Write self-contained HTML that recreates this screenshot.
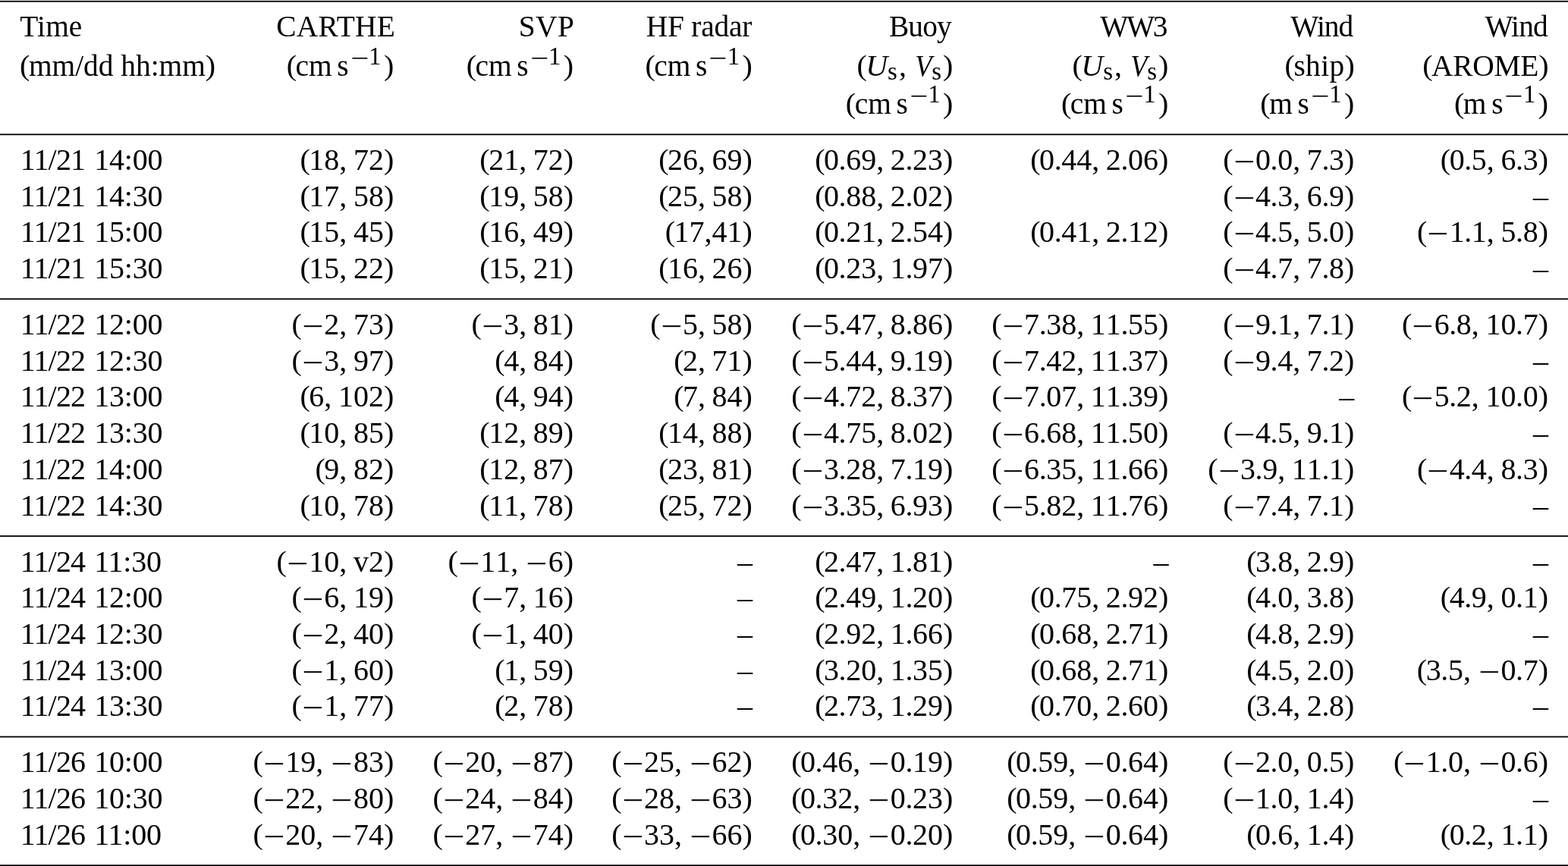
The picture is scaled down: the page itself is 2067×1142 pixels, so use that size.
<!DOCTYPE html>
<html lang="en"><head><meta charset="utf-8"><title>Table</title>
<style>
html,body{margin:0;padding:0;background:#fff;}
body{width:2067px;height:1142px;position:relative;overflow:hidden;font-family:"Liberation Serif",serif;font-size:40.0px;line-height:47px;color:#000;}
.r{position:absolute;left:0;width:2067px;height:47px;transform:scaleY(1.025);transform-origin:0 37.0px;}
.c{position:absolute;top:0;white-space:nowrap;}
.hl{position:absolute;left:0;width:2067px;height:1px;background:#000;}
.p{display:inline-block;letter-spacing:0;transform:translateY(-0.75px) scaleY(0.92);transform-origin:50% 37.00px;}
.t{font-size:0.985em;}
.mn{display:inline-block;width:0.735em;text-align:center;transform:translate(-0.3px,0.068em) scaleX(1.253);}
.l+.mn{margin-left:1.5px;}
.ts+.mn{margin-left:1.6px;}
sup,sub{font-size:0.825em;line-height:0;vertical-align:baseline;position:relative;}
sup{top:-0.445em;margin-right:0.10em;}
sub{top:0.145em;margin-right:0.06em;}
sup .mn{width:0.80em;transform:translate(0.8px,0.11em) scaleX(1.30);}
.ts{display:inline-block;width:0.215em;}
.us{display:inline-block;width:0.1667em;}
.l{margin-right:-1.5px;}
.m{font-kerning:none;}
.pt{margin:0 -0.4px;}
.da{letter-spacing:-0.85px;margin-right:2.4px;}
.v{display:inline-block;margin-left:-1.2px;transform:scaleX(0.91);transform-origin:100% 50%;}
.d{letter-spacing:-0.25px;}
</style></head><body>
<div class="hl" style="top:0px;background:rgb(230,230,230)"></div>
<div class="hl" style="top:1px;background:rgb(0,0,0)"></div>
<div class="hl" style="top:2px;background:rgb(76,76,76)"></div>
<div class="hl" style="top:176px;background:rgb(115,115,115)"></div>
<div class="hl" style="top:177px;background:rgb(0,0,0)"></div>
<div class="hl" style="top:178px;background:rgb(191,191,191)"></div>
<div class="hl" style="top:393px;background:rgb(102,102,102)"></div>
<div class="hl" style="top:394px;background:rgb(0,0,0)"></div>
<div class="hl" style="top:395px;background:rgb(204,204,204)"></div>
<div class="hl" style="top:706px;background:rgb(13,13,13)"></div>
<div class="hl" style="top:707px;background:rgb(38,38,38)"></div>
<div class="hl" style="top:970px;background:rgb(179,179,179)"></div>
<div class="hl" style="top:971px;background:rgb(0,0,0)"></div>
<div class="hl" style="top:972px;background:rgb(128,128,128)"></div>
<div class="hl" style="top:1140px;background:rgb(76,76,76)"></div>
<div class="hl" style="top:1141px;background:rgb(0,0,0)"></div>
<div class="r" style="top:11.00px"><div class="c" style="left:26.36px;letter-spacing:0.08px;"><span class="t">Time</span></div><div class="c" style="right:1545.99px;letter-spacing:0.26px;"><span class="t">CARTHE</span></div><div class="c" style="right:1309.62px;letter-spacing:0.50px;"><span class="t">SVP</span></div><div class="c" style="right:1075.99px;letter-spacing:-0.24px;"><span class="t">HF radar</span></div><div class="c" style="right:813.12px;letter-spacing:-0.84px;"><span class="t">Buoy</span></div><div class="c" style="right:529.88px;letter-spacing:-2.36px;"><span class="t">WW3</span></div><div class="c" style="right:283.69px;letter-spacing:-0.97px;"><span class="t">Wind</span></div><div class="c" style="right:27.26px;letter-spacing:-0.90px;"><span class="t">Wind</span></div></div>
<div class="r" style="top:63.00px"><div class="c" style="left:26.11px;letter-spacing:-0.02px;"><span class="p l">(</span><span class="t">mm/dd hh:mm</span><span class="p">)</span></div><div class="c" style="right:1547.80px;"><span class="p l">(</span><span class="t">cm</span><span class="us"></span><span class="t">s</span><sup><span class="mn">−</span>1</sup><span class="p">)</span></div><div class="c" style="right:1310.90px;"><span class="p l">(</span><span class="t">cm</span><span class="us"></span><span class="t">s</span><sup><span class="mn">−</span>1</sup><span class="p">)</span></div><div class="c" style="right:1075.10px;"><span class="p l">(</span><span class="t">cm</span><span class="us"></span><span class="t">s</span><sup><span class="mn">−</span>1</sup><span class="p">)</span></div><div class="c" style="right:810.70px;"><span class="p l">(</span><i>U</i><sub>s</sub>, <i class="v">V</i><sub>s</sub><span class="p">)</span></div><div class="c" style="right:526.60px;"><span class="p l">(</span><i>U</i><sub>s</sub>, <i class="v">V</i><sub>s</sub><span class="p">)</span></div><div class="c" style="right:281.23px;letter-spacing:0.34px;"><span class="p l">(</span><span class="t">ship</span><span class="p">)</span></div><div class="c" style="right:25.55px;letter-spacing:-0.25px;"><span class="p l">(</span><span class="t">AROME</span><span class="p">)</span></div></div>
<div class="r" style="top:113.00px"><div class="c" style="right:810.70px;"><span class="p l">(</span><span class="t">cm</span><span class="us"></span><span class="t">s</span><sup><span class="mn">−</span>1</sup><span class="p">)</span></div><div class="c" style="right:526.60px;"><span class="p l">(</span><span class="t">cm</span><span class="us"></span><span class="t">s</span><sup><span class="mn">−</span>1</sup><span class="p">)</span></div><div class="c" style="right:281.70px;"><span class="p l">(</span><span class="t">m</span><span class="us"></span><span class="t">s</span><sup><span class="mn">−</span>1</sup><span class="p">)</span></div><div class="c" style="right:26.00px;"><span class="p l">(</span><span class="t">m</span><span class="us"></span><span class="t">s</span><sup><span class="mn">−</span>1</sup><span class="p">)</span></div></div>
<div class="r" style="top:187.00px"><div class="c d" style="left:26.80px;"><span class="da">11/21</span> 14:00</div><div class="c m" style="right:1547.80px;"><span class="p l">(</span>18,<span class="ts"></span>72<span class="p">)</span></div><div class="c m" style="right:1310.90px;"><span class="p l">(</span>21,<span class="ts"></span>72<span class="p">)</span></div><div class="c m" style="right:1075.10px;"><span class="p l">(</span>26,<span class="ts"></span>69<span class="p">)</span></div><div class="c m" style="right:810.70px;"><span class="p l">(</span>0<span class="pt">.</span>69,<span class="ts"></span>2<span class="pt">.</span>23<span class="p">)</span></div><div class="c m" style="right:526.60px;"><span class="p l">(</span>0<span class="pt">.</span>44,<span class="ts"></span>2<span class="pt">.</span>06<span class="p">)</span></div><div class="c m" style="right:281.70px;"><span class="p l">(</span><span class="mn">−</span>0<span class="pt">.</span>0,<span class="ts"></span>7<span class="pt">.</span>3<span class="p">)</span></div><div class="c m" style="right:26.00px;"><span class="p l">(</span>0<span class="pt">.</span>5,<span class="ts"></span>6<span class="pt">.</span>3<span class="p">)</span></div></div>
<div class="r" style="top:235.00px"><div class="c d" style="left:26.80px;"><span class="da">11/21</span> 14:30</div><div class="c m" style="right:1547.80px;"><span class="p l">(</span>17,<span class="ts"></span>58<span class="p">)</span></div><div class="c m" style="right:1310.90px;"><span class="p l">(</span>19,<span class="ts"></span>58<span class="p">)</span></div><div class="c m" style="right:1075.10px;"><span class="p l">(</span>25,<span class="ts"></span>58<span class="p">)</span></div><div class="c m" style="right:810.70px;"><span class="p l">(</span>0<span class="pt">.</span>88,<span class="ts"></span>2<span class="pt">.</span>02<span class="p">)</span></div><div class="c m" style="right:281.70px;"><span class="p l">(</span><span class="mn">−</span>4<span class="pt">.</span>3,<span class="ts"></span>6<span class="pt">.</span>9<span class="p">)</span></div><div class="c m" style="right:26.00px;">–</div></div>
<div class="r" style="top:282.00px"><div class="c d" style="left:26.80px;"><span class="da">11/21</span> 15:00</div><div class="c m" style="right:1547.80px;"><span class="p l">(</span>15,<span class="ts"></span>45<span class="p">)</span></div><div class="c m" style="right:1310.90px;"><span class="p l">(</span>16,<span class="ts"></span>49<span class="p">)</span></div><div class="c m" style="right:1075.10px;"><span class="p l">(</span>17,41<span class="p">)</span></div><div class="c m" style="right:810.70px;"><span class="p l">(</span>0<span class="pt">.</span>21,<span class="ts"></span>2<span class="pt">.</span>54<span class="p">)</span></div><div class="c m" style="right:526.60px;"><span class="p l">(</span>0<span class="pt">.</span>41,<span class="ts"></span>2<span class="pt">.</span>12<span class="p">)</span></div><div class="c m" style="right:281.70px;"><span class="p l">(</span><span class="mn">−</span>4<span class="pt">.</span>5,<span class="ts"></span>5<span class="pt">.</span>0<span class="p">)</span></div><div class="c m" style="right:26.00px;"><span class="p l">(</span><span class="mn">−</span>1<span class="pt">.</span>1,<span class="ts"></span>5<span class="pt">.</span>8<span class="p">)</span></div></div>
<div class="r" style="top:330.00px"><div class="c d" style="left:26.80px;"><span class="da">11/21</span> 15:30</div><div class="c m" style="right:1547.80px;"><span class="p l">(</span>15,<span class="ts"></span>22<span class="p">)</span></div><div class="c m" style="right:1310.90px;"><span class="p l">(</span>15,<span class="ts"></span>21<span class="p">)</span></div><div class="c m" style="right:1075.10px;"><span class="p l">(</span>16,<span class="ts"></span>26<span class="p">)</span></div><div class="c m" style="right:810.70px;"><span class="p l">(</span>0<span class="pt">.</span>23,<span class="ts"></span>1<span class="pt">.</span>97<span class="p">)</span></div><div class="c m" style="right:281.70px;"><span class="p l">(</span><span class="mn">−</span>4<span class="pt">.</span>7,<span class="ts"></span>7<span class="pt">.</span>8<span class="p">)</span></div><div class="c m" style="right:26.00px;">–</div></div>
<div class="r" style="top:404.00px"><div class="c d" style="left:26.80px;"><span class="da">11/22</span> 12:00</div><div class="c m" style="right:1547.80px;"><span class="p l">(</span><span class="mn">−</span>2,<span class="ts"></span>73<span class="p">)</span></div><div class="c m" style="right:1310.90px;"><span class="p l">(</span><span class="mn">−</span>3,<span class="ts"></span>81<span class="p">)</span></div><div class="c m" style="right:1075.10px;"><span class="p l">(</span><span class="mn">−</span>5,<span class="ts"></span>58<span class="p">)</span></div><div class="c m" style="right:810.70px;"><span class="p l">(</span><span class="mn">−</span>5<span class="pt">.</span>47,<span class="ts"></span>8<span class="pt">.</span>86<span class="p">)</span></div><div class="c m" style="right:526.60px;"><span class="p l">(</span><span class="mn">−</span>7<span class="pt">.</span>38,<span class="ts"></span>11<span class="pt">.</span>55<span class="p">)</span></div><div class="c m" style="right:281.70px;"><span class="p l">(</span><span class="mn">−</span>9<span class="pt">.</span>1,<span class="ts"></span>7<span class="pt">.</span>1<span class="p">)</span></div><div class="c m" style="right:26.00px;"><span class="p l">(</span><span class="mn">−</span>6<span class="pt">.</span>8,<span class="ts"></span>10<span class="pt">.</span>7<span class="p">)</span></div></div>
<div class="r" style="top:452.00px"><div class="c d" style="left:26.80px;"><span class="da">11/22</span> 12:30</div><div class="c m" style="right:1547.80px;"><span class="p l">(</span><span class="mn">−</span>3,<span class="ts"></span>97<span class="p">)</span></div><div class="c m" style="right:1310.90px;"><span class="p l">(</span>4,<span class="ts"></span>84<span class="p">)</span></div><div class="c m" style="right:1075.10px;"><span class="p l">(</span>2,<span class="ts"></span>71<span class="p">)</span></div><div class="c m" style="right:810.70px;"><span class="p l">(</span><span class="mn">−</span>5<span class="pt">.</span>44,<span class="ts"></span>9<span class="pt">.</span>19<span class="p">)</span></div><div class="c m" style="right:526.60px;"><span class="p l">(</span><span class="mn">−</span>7<span class="pt">.</span>42,<span class="ts"></span>11<span class="pt">.</span>37<span class="p">)</span></div><div class="c m" style="right:281.70px;"><span class="p l">(</span><span class="mn">−</span>9<span class="pt">.</span>4,<span class="ts"></span>7<span class="pt">.</span>2<span class="p">)</span></div><div class="c m" style="right:26.00px;">–</div></div>
<div class="r" style="top:499.00px"><div class="c d" style="left:26.80px;"><span class="da">11/22</span> 13:00</div><div class="c m" style="right:1547.80px;"><span class="p l">(</span>6,<span class="ts"></span>102<span class="p">)</span></div><div class="c m" style="right:1310.90px;"><span class="p l">(</span>4,<span class="ts"></span>94<span class="p">)</span></div><div class="c m" style="right:1075.10px;"><span class="p l">(</span>7,<span class="ts"></span>84<span class="p">)</span></div><div class="c m" style="right:810.70px;"><span class="p l">(</span><span class="mn">−</span>4<span class="pt">.</span>72,<span class="ts"></span>8<span class="pt">.</span>37<span class="p">)</span></div><div class="c m" style="right:526.60px;"><span class="p l">(</span><span class="mn">−</span>7<span class="pt">.</span>07,<span class="ts"></span>11<span class="pt">.</span>39<span class="p">)</span></div><div class="c m" style="right:281.70px;">–</div><div class="c m" style="right:26.00px;"><span class="p l">(</span><span class="mn">−</span>5<span class="pt">.</span>2,<span class="ts"></span>10<span class="pt">.</span>0<span class="p">)</span></div></div>
<div class="r" style="top:547.00px"><div class="c d" style="left:26.80px;"><span class="da">11/22</span> 13:30</div><div class="c m" style="right:1547.80px;"><span class="p l">(</span>10,<span class="ts"></span>85<span class="p">)</span></div><div class="c m" style="right:1310.90px;"><span class="p l">(</span>12,<span class="ts"></span>89<span class="p">)</span></div><div class="c m" style="right:1075.10px;"><span class="p l">(</span>14,<span class="ts"></span>88<span class="p">)</span></div><div class="c m" style="right:810.70px;"><span class="p l">(</span><span class="mn">−</span>4<span class="pt">.</span>75,<span class="ts"></span>8<span class="pt">.</span>02<span class="p">)</span></div><div class="c m" style="right:526.60px;"><span class="p l">(</span><span class="mn">−</span>6<span class="pt">.</span>68,<span class="ts"></span>11<span class="pt">.</span>50<span class="p">)</span></div><div class="c m" style="right:281.70px;"><span class="p l">(</span><span class="mn">−</span>4<span class="pt">.</span>5,<span class="ts"></span>9<span class="pt">.</span>1<span class="p">)</span></div><div class="c m" style="right:26.00px;">–</div></div>
<div class="r" style="top:595.00px"><div class="c d" style="left:26.80px;"><span class="da">11/22</span> 14:00</div><div class="c m" style="right:1547.80px;"><span class="p l">(</span>9,<span class="ts"></span>82<span class="p">)</span></div><div class="c m" style="right:1310.90px;"><span class="p l">(</span>12,<span class="ts"></span>87<span class="p">)</span></div><div class="c m" style="right:1075.10px;"><span class="p l">(</span>23,<span class="ts"></span>81<span class="p">)</span></div><div class="c m" style="right:810.70px;"><span class="p l">(</span><span class="mn">−</span>3<span class="pt">.</span>28,<span class="ts"></span>7<span class="pt">.</span>19<span class="p">)</span></div><div class="c m" style="right:526.60px;"><span class="p l">(</span><span class="mn">−</span>6<span class="pt">.</span>35,<span class="ts"></span>11<span class="pt">.</span>66<span class="p">)</span></div><div class="c m" style="right:281.70px;"><span class="p l">(</span><span class="mn">−</span>3<span class="pt">.</span>9,<span class="ts"></span>11<span class="pt">.</span>1<span class="p">)</span></div><div class="c m" style="right:26.00px;"><span class="p l">(</span><span class="mn">−</span>4<span class="pt">.</span>4,<span class="ts"></span>8<span class="pt">.</span>3<span class="p">)</span></div></div>
<div class="r" style="top:643.00px"><div class="c d" style="left:26.80px;"><span class="da">11/22</span> 14:30</div><div class="c m" style="right:1547.80px;"><span class="p l">(</span>10,<span class="ts"></span>78<span class="p">)</span></div><div class="c m" style="right:1310.90px;"><span class="p l">(</span>11,<span class="ts"></span>78<span class="p">)</span></div><div class="c m" style="right:1075.10px;"><span class="p l">(</span>25,<span class="ts"></span>72<span class="p">)</span></div><div class="c m" style="right:810.70px;"><span class="p l">(</span><span class="mn">−</span>3<span class="pt">.</span>35,<span class="ts"></span>6<span class="pt">.</span>93<span class="p">)</span></div><div class="c m" style="right:526.60px;"><span class="p l">(</span><span class="mn">−</span>5<span class="pt">.</span>82,<span class="ts"></span>11<span class="pt">.</span>76<span class="p">)</span></div><div class="c m" style="right:281.70px;"><span class="p l">(</span><span class="mn">−</span>7<span class="pt">.</span>4,<span class="ts"></span>7<span class="pt">.</span>1<span class="p">)</span></div><div class="c m" style="right:26.00px;">–</div></div>
<div class="r" style="top:717.00px"><div class="c d" style="left:26.80px;"><span class="da">11/24</span> 11:30</div><div class="c m" style="right:1547.80px;"><span class="p l">(</span><span class="mn">−</span>10,<span class="ts"></span>v2<span class="p">)</span></div><div class="c m" style="right:1310.90px;"><span class="p l">(</span><span class="mn">−</span>11,<span class="ts"></span><span class="mn">−</span>6<span class="p">)</span></div><div class="c m" style="right:1075.10px;">–</div><div class="c m" style="right:810.70px;"><span class="p l">(</span>2<span class="pt">.</span>47,<span class="ts"></span>1<span class="pt">.</span>81<span class="p">)</span></div><div class="c m" style="right:526.60px;">–</div><div class="c m" style="right:281.70px;"><span class="p l">(</span>3<span class="pt">.</span>8,<span class="ts"></span>2<span class="pt">.</span>9<span class="p">)</span></div><div class="c m" style="right:26.00px;">–</div></div>
<div class="r" style="top:764.00px"><div class="c d" style="left:26.80px;"><span class="da">11/24</span> 12:00</div><div class="c m" style="right:1547.80px;"><span class="p l">(</span><span class="mn">−</span>6,<span class="ts"></span>19<span class="p">)</span></div><div class="c m" style="right:1310.90px;"><span class="p l">(</span><span class="mn">−</span>7,<span class="ts"></span>16<span class="p">)</span></div><div class="c m" style="right:1075.10px;">–</div><div class="c m" style="right:810.70px;"><span class="p l">(</span>2<span class="pt">.</span>49,<span class="ts"></span>1<span class="pt">.</span>20<span class="p">)</span></div><div class="c m" style="right:526.60px;"><span class="p l">(</span>0<span class="pt">.</span>75,<span class="ts"></span>2<span class="pt">.</span>92<span class="p">)</span></div><div class="c m" style="right:281.70px;"><span class="p l">(</span>4<span class="pt">.</span>0,<span class="ts"></span>3<span class="pt">.</span>8<span class="p">)</span></div><div class="c m" style="right:26.00px;"><span class="p l">(</span>4<span class="pt">.</span>9,<span class="ts"></span>0<span class="pt">.</span>1<span class="p">)</span></div></div>
<div class="r" style="top:812.00px"><div class="c d" style="left:26.80px;"><span class="da">11/24</span> 12:30</div><div class="c m" style="right:1547.80px;"><span class="p l">(</span><span class="mn">−</span>2,<span class="ts"></span>40<span class="p">)</span></div><div class="c m" style="right:1310.90px;"><span class="p l">(</span><span class="mn">−</span>1,<span class="ts"></span>40<span class="p">)</span></div><div class="c m" style="right:1075.10px;">–</div><div class="c m" style="right:810.70px;"><span class="p l">(</span>2<span class="pt">.</span>92,<span class="ts"></span>1<span class="pt">.</span>66<span class="p">)</span></div><div class="c m" style="right:526.60px;"><span class="p l">(</span>0<span class="pt">.</span>68,<span class="ts"></span>2<span class="pt">.</span>71<span class="p">)</span></div><div class="c m" style="right:281.70px;"><span class="p l">(</span>4<span class="pt">.</span>8,<span class="ts"></span>2<span class="pt">.</span>9<span class="p">)</span></div><div class="c m" style="right:26.00px;">–</div></div>
<div class="r" style="top:860.00px"><div class="c d" style="left:26.80px;"><span class="da">11/24</span> 13:00</div><div class="c m" style="right:1547.80px;"><span class="p l">(</span><span class="mn">−</span>1,<span class="ts"></span>60<span class="p">)</span></div><div class="c m" style="right:1310.90px;"><span class="p l">(</span>1,<span class="ts"></span>59<span class="p">)</span></div><div class="c m" style="right:1075.10px;">–</div><div class="c m" style="right:810.70px;"><span class="p l">(</span>3<span class="pt">.</span>20,<span class="ts"></span>1<span class="pt">.</span>35<span class="p">)</span></div><div class="c m" style="right:526.60px;"><span class="p l">(</span>0<span class="pt">.</span>68,<span class="ts"></span>2<span class="pt">.</span>71<span class="p">)</span></div><div class="c m" style="right:281.70px;"><span class="p l">(</span>4<span class="pt">.</span>5,<span class="ts"></span>2<span class="pt">.</span>0<span class="p">)</span></div><div class="c m" style="right:26.00px;"><span class="p l">(</span>3<span class="pt">.</span>5,<span class="ts"></span><span class="mn">−</span>0<span class="pt">.</span>7<span class="p">)</span></div></div>
<div class="r" style="top:907.00px"><div class="c d" style="left:26.80px;"><span class="da">11/24</span> 13:30</div><div class="c m" style="right:1547.80px;"><span class="p l">(</span><span class="mn">−</span>1,<span class="ts"></span>77<span class="p">)</span></div><div class="c m" style="right:1310.90px;"><span class="p l">(</span>2,<span class="ts"></span>78<span class="p">)</span></div><div class="c m" style="right:1075.10px;">–</div><div class="c m" style="right:810.70px;"><span class="p l">(</span>2<span class="pt">.</span>73,<span class="ts"></span>1<span class="pt">.</span>29<span class="p">)</span></div><div class="c m" style="right:526.60px;"><span class="p l">(</span>0<span class="pt">.</span>70,<span class="ts"></span>2<span class="pt">.</span>60<span class="p">)</span></div><div class="c m" style="right:281.70px;"><span class="p l">(</span>3<span class="pt">.</span>4,<span class="ts"></span>2<span class="pt">.</span>8<span class="p">)</span></div><div class="c m" style="right:26.00px;">–</div></div>
<div class="r" style="top:981.00px"><div class="c d" style="left:26.80px;"><span class="da">11/26</span> 10:00</div><div class="c m" style="right:1547.80px;"><span class="p l">(</span><span class="mn">−</span>19,<span class="ts"></span><span class="mn">−</span>83<span class="p">)</span></div><div class="c m" style="right:1310.90px;"><span class="p l">(</span><span class="mn">−</span>20,<span class="ts"></span><span class="mn">−</span>87<span class="p">)</span></div><div class="c m" style="right:1075.10px;"><span class="p l">(</span><span class="mn">−</span>25,<span class="ts"></span><span class="mn">−</span>62<span class="p">)</span></div><div class="c m" style="right:810.70px;"><span class="p l">(</span>0<span class="pt">.</span>46,<span class="ts"></span><span class="mn">−</span>0<span class="pt">.</span>19<span class="p">)</span></div><div class="c m" style="right:526.60px;"><span class="p l">(</span>0<span class="pt">.</span>59,<span class="ts"></span><span class="mn">−</span>0<span class="pt">.</span>64<span class="p">)</span></div><div class="c m" style="right:281.70px;"><span class="p l">(</span><span class="mn">−</span>2<span class="pt">.</span>0,<span class="ts"></span>0<span class="pt">.</span>5<span class="p">)</span></div><div class="c m" style="right:26.00px;"><span class="p l">(</span><span class="mn">−</span>1<span class="pt">.</span>0,<span class="ts"></span><span class="mn">−</span>0<span class="pt">.</span>6<span class="p">)</span></div></div>
<div class="r" style="top:1029.00px"><div class="c d" style="left:26.80px;"><span class="da">11/26</span> 10:30</div><div class="c m" style="right:1547.80px;"><span class="p l">(</span><span class="mn">−</span>22,<span class="ts"></span><span class="mn">−</span>80<span class="p">)</span></div><div class="c m" style="right:1310.90px;"><span class="p l">(</span><span class="mn">−</span>24,<span class="ts"></span><span class="mn">−</span>84<span class="p">)</span></div><div class="c m" style="right:1075.10px;"><span class="p l">(</span><span class="mn">−</span>28,<span class="ts"></span><span class="mn">−</span>63<span class="p">)</span></div><div class="c m" style="right:810.70px;"><span class="p l">(</span>0<span class="pt">.</span>32,<span class="ts"></span><span class="mn">−</span>0<span class="pt">.</span>23<span class="p">)</span></div><div class="c m" style="right:526.60px;"><span class="p l">(</span>0<span class="pt">.</span>59,<span class="ts"></span><span class="mn">−</span>0<span class="pt">.</span>64<span class="p">)</span></div><div class="c m" style="right:281.70px;"><span class="p l">(</span><span class="mn">−</span>1<span class="pt">.</span>0,<span class="ts"></span>1<span class="pt">.</span>4<span class="p">)</span></div><div class="c m" style="right:26.00px;">–</div></div>
<div class="r" style="top:1077.00px"><div class="c d" style="left:26.80px;"><span class="da">11/26</span> 11:00</div><div class="c m" style="right:1547.80px;"><span class="p l">(</span><span class="mn">−</span>20,<span class="ts"></span><span class="mn">−</span>74<span class="p">)</span></div><div class="c m" style="right:1310.90px;"><span class="p l">(</span><span class="mn">−</span>27,<span class="ts"></span><span class="mn">−</span>74<span class="p">)</span></div><div class="c m" style="right:1075.10px;"><span class="p l">(</span><span class="mn">−</span>33,<span class="ts"></span><span class="mn">−</span>66<span class="p">)</span></div><div class="c m" style="right:810.70px;"><span class="p l">(</span>0<span class="pt">.</span>30,<span class="ts"></span><span class="mn">−</span>0<span class="pt">.</span>20<span class="p">)</span></div><div class="c m" style="right:526.60px;"><span class="p l">(</span>0<span class="pt">.</span>59,<span class="ts"></span><span class="mn">−</span>0<span class="pt">.</span>64<span class="p">)</span></div><div class="c m" style="right:281.70px;"><span class="p l">(</span>0<span class="pt">.</span>6,<span class="ts"></span>1<span class="pt">.</span>4<span class="p">)</span></div><div class="c m" style="right:26.00px;"><span class="p l">(</span>0<span class="pt">.</span>2,<span class="ts"></span>1<span class="pt">.</span>1<span class="p">)</span></div></div>
</body></html>
